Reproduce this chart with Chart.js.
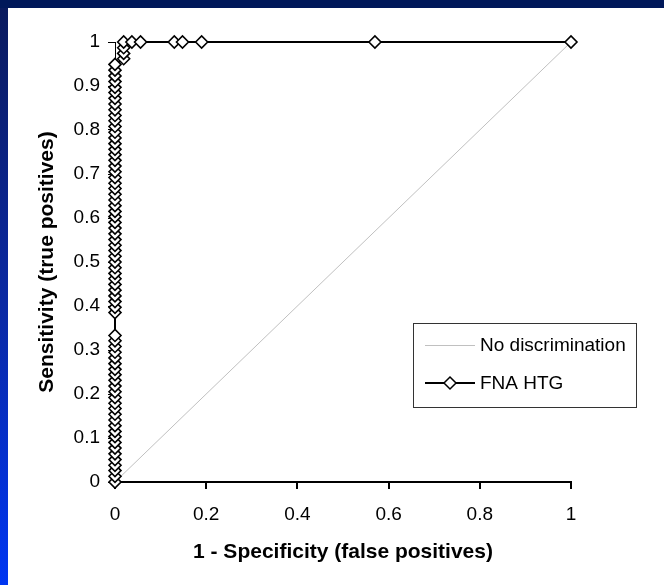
<!DOCTYPE html>
<html>
<head>
<meta charset="utf-8">
<script src="https://cdn.jsdelivr.net/npm/chart.js@4.4.1/dist/chart.umd.min.js"></script>
<style>
  html, body { margin: 0; padding: 0; }
  body {
    width: 664px; height: 585px; overflow: hidden; position: relative;
    background: linear-gradient(to bottom, #0a1a5c 0%, #0a2aa8 55%, #0036f2 100%);
  }
  #topbar { position: absolute; left: 0; top: 0; width: 664px; height: 8px; background: #00185a; }
  #panel { position: absolute; left: 8px; top: 8px; width: 656px; height: 577px; background: #fff; }
</style>
</head>
<body>
<div id="topbar"></div>
<div id="panel"><canvas id="rocChart" width="656" height="577"></canvas></div>
<script>
// ROC curve data
const fnaX = [
    0, 0, 0, 0, 0, 0, 0, 0, 0, 0, 0, 0, 0, 0, 0, 0, 0, 0, 0, 0, 0, 0, 0, 0, 0, 0, 0,
    0, 0, 0, 0, 0, 0, 0, 0, 0, 0, 0, 0, 0, 0, 0, 0, 0, 0, 0, 0, 0, 0, 0, 0, 0, 0, 0,
    0, 0, 0, 0, 0, 0, 0, 0, 0, 0, 0, 0, 0, 0, 0, 0, 0, 0,
    0.019, 0.019, 0.019, 0.019, 0.037, 0.056, 0.13, 0.148, 0.19, 0.57, 1
];
const fnaY = [
    0, 0.013, 0.026, 0.038, 0.051, 0.064, 0.077, 0.090, 0.103, 0.115, 0.128, 0.141, 0.154, 0.167,
    0.179, 0.192, 0.205, 0.218, 0.231, 0.244, 0.256, 0.269, 0.282, 0.295, 0.308, 0.321, 0.333,
    0.385, 0.397, 0.410, 0.423, 0.436, 0.449, 0.462, 0.474, 0.487, 0.500, 0.513, 0.526, 0.538,
    0.551, 0.564, 0.577, 0.590, 0.603, 0.615, 0.628, 0.641, 0.654, 0.667, 0.679, 0.692, 0.705,
    0.718, 0.731, 0.744, 0.756, 0.769, 0.782, 0.795, 0.808, 0.821, 0.833, 0.846, 0.859, 0.872,
    0.885, 0.897, 0.910, 0.923, 0.936, 0.949,
    0.962, 0.974, 0.987, 1, 1, 1, 1, 1, 1, 1, 1
];
const diagX = [0, 1];
const diagY = [0, 1];
const seriesNames = ["No discrimination", "FNA HTG"];

const FONT = "'Liberation Sans', Arial, sans-serif";

function toPoints(xs, ys) {
    return xs.map((x, i) => ({ x: x, y: ys[i] }));
}

// plain tick text: 0, 0.2, ... 1
function tickText(v) {
    return String(Math.round(v * 10) / 10);
}

// legend box drawn inside the plot, like the original
const boxLegend = {
    id: "boxLegend",
    afterDraw(chart) {
        const ctx = chart.ctx;
        const left = 405, top = 315, w = 223, h = 84;
        ctx.save();
        ctx.fillStyle = "#fff";
        ctx.fillRect(left, top, w, h);
        ctx.strokeStyle = "#333";
        ctx.lineWidth = 1;
        ctx.strokeRect(left + 0.5, top + 0.5, w, h);

        ctx.font = "19px " + FONT;
        ctx.textBaseline = "middle";
        ctx.fillStyle = "#000";

        // entry 1
        let y = top + 22;
        ctx.strokeStyle = "#c0c0c0";
        ctx.beginPath();
        ctx.moveTo(left + 12, y + 0.5);
        ctx.lineTo(left + 62, y + 0.5);
        ctx.stroke();
        ctx.fillText(seriesNames[0], left + 67, y + 1);

        // entry 2
        y = top + 60;
        ctx.strokeStyle = "#000";
        ctx.lineWidth = 2;
        ctx.beginPath();
        ctx.moveTo(left + 12, y);
        ctx.lineTo(left + 62, y);
        ctx.stroke();
        const cx = left + 37, r = 6;
        ctx.beginPath();
        ctx.moveTo(cx, y - r);
        ctx.lineTo(cx + r, y);
        ctx.lineTo(cx, y + r);
        ctx.lineTo(cx - r, y);
        ctx.closePath();
        ctx.fillStyle = "#fff";
        ctx.fill();
        ctx.lineWidth = 1.5;
        ctx.stroke();
        ctx.fillStyle = "#000";
        ctx.fillText(seriesNames[1], left + 67, y + 1);
        ctx.restore();
    }
};

let ctx = document.getElementById("rocChart").getContext("2d");

new Chart(ctx, {
    type: "scatter",
    data: {
        datasets: [
            {
                label: seriesNames[0],
                data: toPoints(diagX, diagY),
                showLine: true,
                borderColor: "#c0c0c0",
                borderWidth: 1,
                pointRadius: 0,
                order: 2
            },
            {
                label: seriesNames[1],
                data: toPoints(fnaX, fnaY),
                showLine: true,
                borderColor: "#000",
                borderWidth: 2,
                pointStyle: "rectRot",
                pointRadius: 6,
                pointBackgroundColor: "#fff",
                pointBorderColor: "#000",
                pointBorderWidth: 1.6,
                clip: false,
                order: 1
            }
        ]
    },
    options: {
        responsive: false,
        animation: false,
        layout: { padding: { top: 34, right: 93, left: 0, bottom: 0 } },
        plugins: {
            legend: { display: false },
            tooltip: { enabled: false }
        },
        scales: {
            x: {
                type: "linear",
                min: 0,
                max: 1,
                afterFit: (s) => { s.height = 103; },
                ticks: {
                    stepSize: 0.2,
                    color: "#000",
                    padding: 14,
                    callback: tickText,
                    font: { family: FONT, size: 19 }
                },
                grid: { drawOnChartArea: false, color: "#000", lineWidth: 2, tickLength: 7 },
                border: { color: "#000", width: 2 },
                title: {
                    display: true,
                    text: "1 - Specificity (false positives)",
                    color: "#000",
                    padding: { top: 0, bottom: 20 },
                    font: { family: FONT, size: 21, weight: "bold" }
                }
            },
            y: {
                type: "linear",
                min: 0,
                max: 1,
                afterFit: (s) => { s.width = 107; },
                ticks: {
                    stepSize: 0.1,
                    color: "#000",
                    padding: 8,
                    callback: tickText,
                    font: { family: FONT, size: 19 }
                },
                grid: { drawOnChartArea: false, color: "#000", lineWidth: 1, tickLength: 7 },
                border: { color: "#000", width: 1 },
                title: {
                    display: true,
                    text: "Sensitivity (true positives)",
                    color: "#000",
                    padding: { top: 27, bottom: 0 },
                    font: { family: FONT, size: 21, weight: "bold" }
                }
            }
        }
    },
    plugins: [boxLegend]
});
</script>
</body>
</html>
